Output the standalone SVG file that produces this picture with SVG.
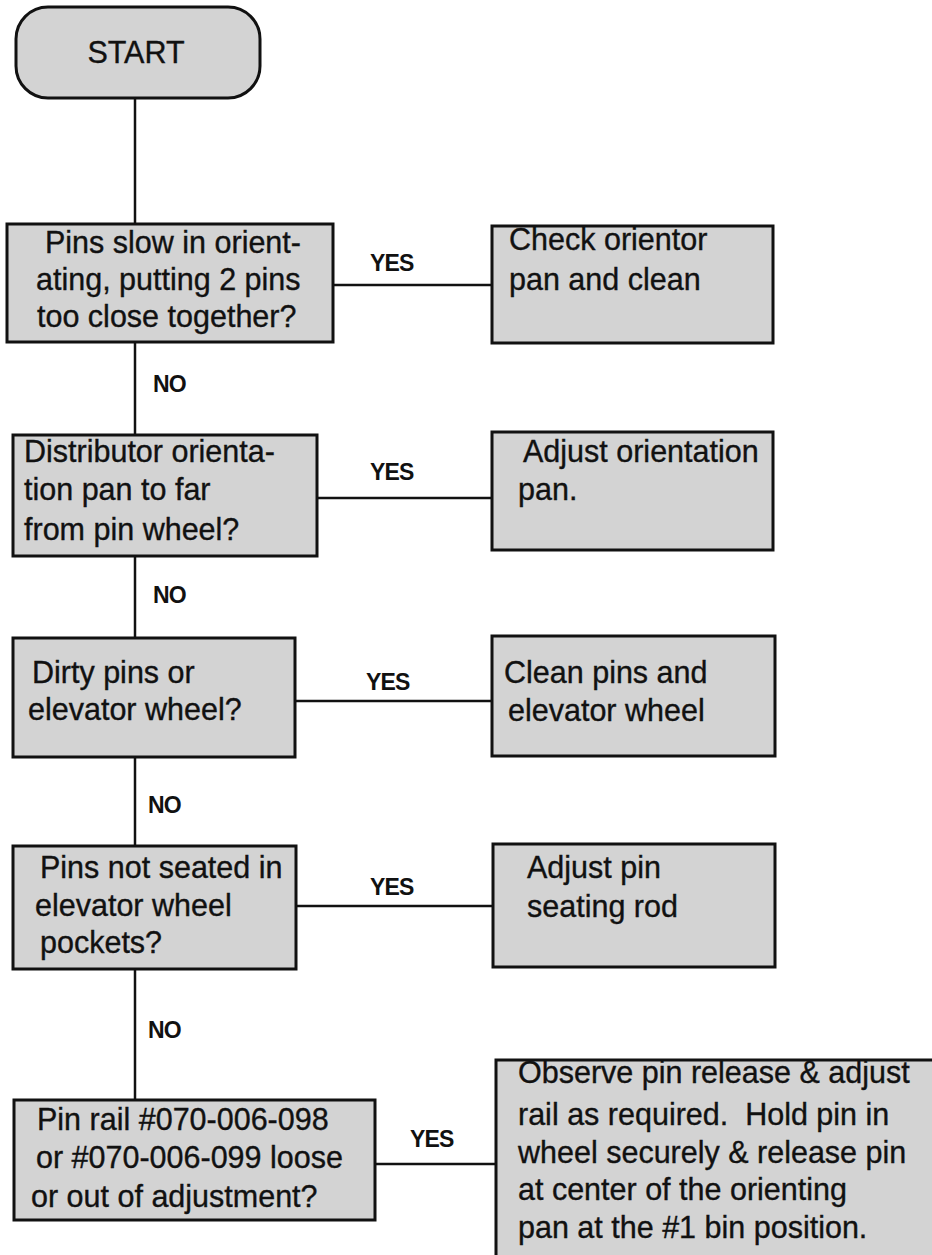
<svg xmlns="http://www.w3.org/2000/svg" width="932" height="1255" viewBox="0 0 932 1255">
  <style>
    .box { fill: #d3d3d3; stroke: #111; stroke-width: 3; }
    .t { font-family: "Liberation Sans", Arial, Helvetica, sans-serif; font-size: 30.5px; fill: #111; stroke: #111; stroke-width: 0.35px; }
    .lbl { font-family: "Liberation Sans", Arial, Helvetica, sans-serif; font-size: 23px; font-weight: bold; fill: #111; letter-spacing: -0.8px; }
    .wire { stroke: #111; stroke-width: 2.5; fill: none; }
  </style>
  <rect width="932" height="1255" fill="#fff"/>

  <!-- connectors between the decision boxes and their actions -->
  <g id="connectors">
    <path class="wire" d="M135 98 V224"/>
    <path class="wire" d="M333 285 H492"/>
    <path class="wire" d="M135 342 V435"/>
    <path class="wire" d="M317 498 H492"/>
    <path class="wire" d="M135 556 V638"/>
    <path class="wire" d="M295 701 H492"/>
    <path class="wire" d="M135 757 V846"/>
    <path class="wire" d="M296 906 H493"/>
    <path class="wire" d="M135 969 V1100"/>
    <path class="wire" d="M375 1164 H496"/>
    <text class="lbl" x="370" y="271">YES</text>
    <text class="lbl" x="153" y="392">NO</text>
    <text class="lbl" x="370" y="480">YES</text>
    <text class="lbl" x="153" y="603">NO</text>
    <text class="lbl" x="366" y="690">YES</text>
    <text class="lbl" x="148" y="813">NO</text>
    <text class="lbl" x="370" y="895">YES</text>
    <text class="lbl" x="148" y="1038">NO</text>
    <text class="lbl" x="410" y="1147">YES</text>
  </g>

  <g id="start">
    <rect class="box" x="16" y="7" width="244" height="91" rx="32" ry="32"/>
    <text class="t" x="136" y="63" text-anchor="middle">START</text>
  </g>

  <g id="q1">
    <rect class="box" x="7" y="224" width="326" height="118"/>
    <text class="t" x="45" y="253">Pins slow in orient-</text>
    <text class="t" x="36" y="290">ating, putting 2 pins</text>
    <text class="t" x="37" y="327">too close together?</text>
  </g>
  <g id="a1">
    <rect class="box" x="492" y="226" width="281" height="117"/>
    <text class="t" x="509" y="250">Check orientor</text>
    <text class="t" x="509" y="290">pan and clean</text>
  </g>

  <g id="q2">
    <rect class="box" x="13" y="435" width="304" height="121"/>
    <text class="t" x="24" y="462">Distributor orienta-</text>
    <text class="t" x="24" y="500">tion pan to far</text>
    <text class="t" x="24" y="540">from pin wheel?</text>
  </g>
  <g id="a2">
    <rect class="box" x="492" y="432" width="281" height="118"/>
    <text class="t" x="523" y="462">Adjust orientation</text>
    <text class="t" x="518" y="500">pan.</text>
  </g>

  <g id="q3">
    <rect class="box" x="13" y="638" width="282" height="119"/>
    <text class="t" x="32" y="683">Dirty pins or</text>
    <text class="t" x="28" y="720">elevator wheel?</text>
  </g>
  <g id="a3">
    <rect class="box" x="492" y="636" width="283" height="120"/>
    <text class="t" x="504" y="683">Clean pins and</text>
    <text class="t" x="508" y="721">elevator wheel</text>
  </g>

  <g id="q4">
    <rect class="box" x="13" y="846" width="283" height="123"/>
    <text class="t" x="40" y="878">Pins not seated in</text>
    <text class="t" x="35" y="916">elevator wheel</text>
    <text class="t" x="40" y="953">pockets?</text>
  </g>
  <g id="a4">
    <rect class="box" x="493" y="844" width="282" height="123"/>
    <text class="t" x="527" y="878">Adjust pin</text>
    <text class="t" x="527" y="917">seating rod</text>
  </g>

  <g id="q5">
    <rect class="box" x="14" y="1100" width="361" height="120"/>
    <text class="t" x="37" y="1130">Pin rail #070-006-098</text>
    <text class="t" x="36" y="1168">or #070-006-099 loose</text>
    <text class="t" x="31" y="1207">or out of adjustment?</text>
  </g>
  <g id="a5">
    <rect class="box" x="496" y="1060" width="450" height="210"/>
    <text class="t" x="518" y="1083">Observe pin release &amp; adjust</text>
    <text class="t" x="518" y="1125">rail as required.&#160; Hold pin in</text>
    <text class="t" x="518" y="1163">wheel securely &amp; release pin</text>
    <text class="t" x="518" y="1200">at center of the orienting</text>
    <text class="t" x="518" y="1238">pan at the #1 bin position.</text>
  </g>
</svg>
